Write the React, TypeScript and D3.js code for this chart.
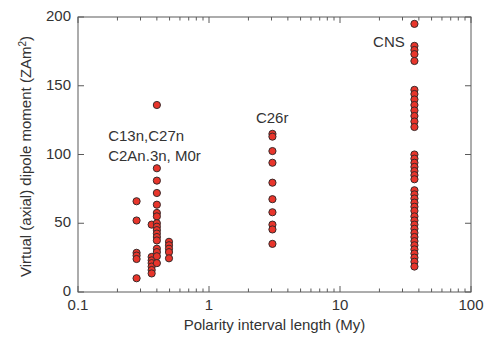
import React from "react";
import * as d3 from "d3";

const groupX: number[] = [0.28, 0.365, 0.40, 0.495, 3.05, 37];
const group0: number[] = [66, 52, 28.5, 26.5, 24, 10];
const group1: number[] = [49, 25.5, 23, 21, 18.5, 16, 13.5];
const group2: number[] = [136, 90, 81, 72, 63.5, 57.5, 55, 50, 47.5, 45, 42.5, 40, 37.5, 31.5, 29, 26, 21];
const group3: number[] = [36.5, 34, 31.5, 29, 24.5];
const group4: number[] = [115, 113, 102.5, 94, 79.5, 67.5, 58, 49, 45.5, 35];
const group5: number[] = [195, 179, 176, 173, 168, 147, 144, 140, 136, 132, 128, 124, 120,
  100, 97, 94, 91, 88, 85, 82, 74, 71, 68, 65, 62, 59, 55, 52, 49, 46, 43, 40, 37, 34, 31, 28, 25, 22, 18.5];
const groups: number[][] = [group0, group1, group2, group3, group4, group5];

const xTicks: number[] = [0.1, 1, 10, 100];
const xTickLabels: string[] = ["0.1", "1", "10", "100"];
const yTicks: number[] = [0, 50, 100, 150, 200];

const annotations = [
  { text: "C13n,C27n", x: 0.17, y: 110 },
  { text: "C2An.3n, M0r", x: 0.17, y: 95 },
  { text: "C26r", x: 2.28, y: 123 },
  { text: "CNS", x: 17.9, y: 178 },
];

export default function App() {
  const W = 496, H = 340;
  const left = 78, right = 471, top = 17, bottom = 292;
  const x = d3.scaleLog().domain([0.1, 100]).range([left, right]);
  const y = d3.scaleLinear().domain([0, 200]).range([bottom, top]);
  const minor: number[] = [];
  for (let d = 0.1; d < 100; d *= 10) {
    for (let k = 2; k <= 9; k++) minor.push(+(d * k).toPrecision(3));
  }
  const axisColor = "#5a5a5a";
  const textColor = "#333";
  const font = "Liberation Sans, Arial, sans-serif";
  const majLen = 6, minLen = 3.5;
  return (
    <div style={{ position: "absolute", left: 0, top: 0 }}>
      <svg width={W} height={H} style={{ display: "block", background: "#fff" }}>
        <rect x={left} y={top} width={right - left} height={bottom - top} fill="none" stroke={axisColor} strokeWidth={1} />
        {xTicks.map((t) => (
          <g key={"xt" + t}>
            <line x1={x(t)} x2={x(t)} y1={bottom} y2={bottom - majLen} stroke={axisColor} />
            <line x1={x(t)} x2={x(t)} y1={top} y2={top + majLen} stroke={axisColor} />
          </g>
        ))}
        {minor.map((t) => (
          <g key={"xm" + t}>
            <line x1={x(t)} x2={x(t)} y1={bottom} y2={bottom - minLen} stroke={axisColor} />
            <line x1={x(t)} x2={x(t)} y1={top} y2={top + minLen} stroke={axisColor} />
          </g>
        ))}
        {yTicks.map((t) => (
          <g key={"yt" + t}>
            <line x1={left} x2={left + majLen} y1={y(t)} y2={y(t)} stroke={axisColor} />
            <line x1={right} x2={right - majLen} y1={y(t)} y2={y(t)} stroke={axisColor} />
            <text x={71} y={y(t) + 4} textAnchor="end" fontSize={15} fill={textColor} fontFamily={font}>{t}</text>
          </g>
        ))}
        {xTicks.map((t, i) => (
          <text key={"xl" + t} x={x(t)} y={310} textAnchor="middle" fontSize={15} fill={textColor} fontFamily={font}>{xTickLabels[i]}</text>
        ))}
        <text x={(left + right) / 2} y={330} textAnchor="middle" fontSize={15} fill={textColor} fontFamily={font}>Polarity interval length (My)</text>
        <text transform={`translate(31,${(top + bottom) / 2 + 2}) rotate(-90)`} textAnchor="middle" fontSize={15} fill={textColor} fontFamily={font}>
          Virtual (axial) dipole moment (ZAm<tspan dy={-5} fontSize={10}>2</tspan><tspan dy={5}>)</tspan>
        </text>
        {annotations.map((a) => (
          <text key={a.text} x={x(a.x)} y={y(a.y)} fontSize={15} fill={textColor} fontFamily={font}>{a.text}</text>
        ))}
        {groups.map((g, gi) =>
          g.map((v, i) => (
            <circle key={gi + "-" + i} cx={x(groupX[gi])} cy={y(v)} r={3.6} fill="#e8352b" stroke="#3a2a2a" strokeWidth={1} />
          ))
        )}
      </svg>
    </div>
  );
}
